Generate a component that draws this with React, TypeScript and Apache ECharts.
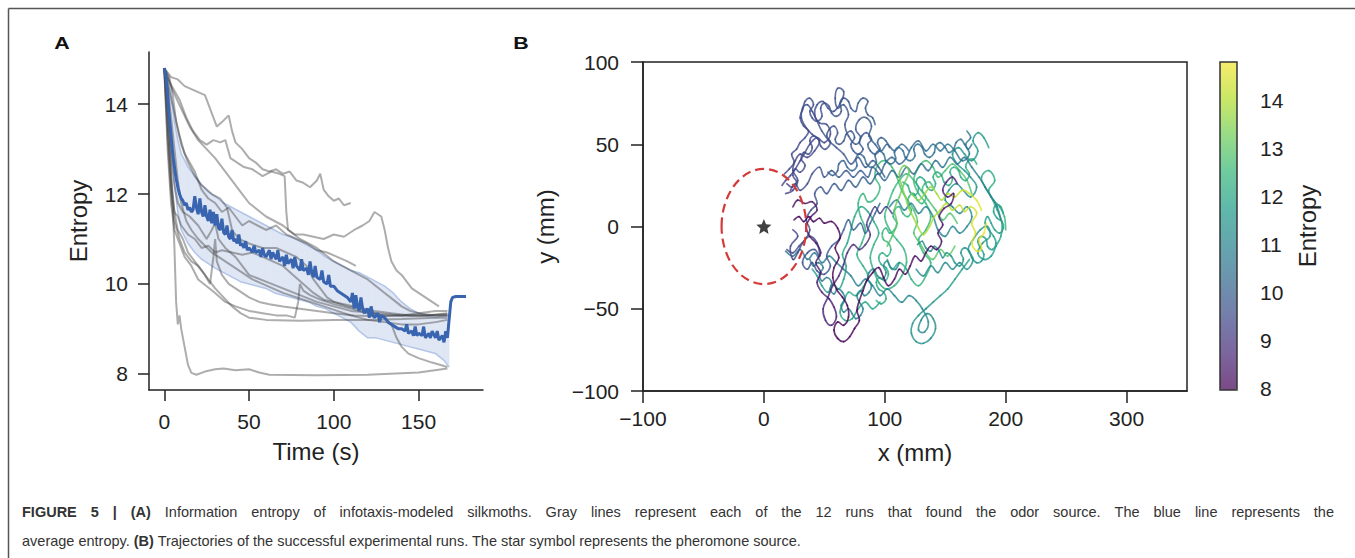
import React, { useEffect, useRef } from "react";
import * as echarts from "echarts";

// ---------------- Panel A data (time s, entropy) ----------------
const runA1 = [[0,14.8],[2,14.2],[4,12.6],[6,10.8],[7,9.6],[8,9.1],[9,9.3],[10,9.0],[12,8.6],[14,8.2],[16,8.02],[19,7.98],[24,8.05],[30,8.1],[35,8.12],[42,8.08],[50,8.1],[56,8.03],[62,7.98],[90,7.97],[120,7.98],[150,8.03],[167,8.12]];
const runA2 = [[0,14.8],[4,14.6],[8,14.55],[12,14.4],[18,14.3],[24,14.2],[28,13.8],[31,13.5],[34,13.6],[38,13.75],[40,13.4],[42,13.15],[46,13.0],[50,12.8],[54,12.7],[58,12.55],[62,12.5],[66,12.55],[70,12.45],[74,12.5],[78,12.3],[82,12.25],[86,12.15],[90,12.3],[92,12.45],[94,12.1],[97,11.95],[100,11.85],[103,11.9],[106,11.75],[110,11.8]];
const runA3 = [[0,14.8],[3,14.5],[6,14.3],[9,14.1],[13,13.7],[17,13.4],[21,13.2],[25,13.1],[29,13.2],[33,13.15],[36,13.2],[39,12.8],[43,12.7],[47,12.6],[52,12.55],[58,12.4],[63,12.5],[68,12.45],[71,12.4],[72,11.6],[73,11.2],[77,11.1],[82,11.1],[88,11.05],[94,11.0],[100,11.1],[106,11.05],[112,11.2],[117,11.3],[121,11.4],[124,11.6],[126,11.55],[128,11.5],[130,11.2],[132,10.8],[134,10.5],[137,10.3],[140,10.2],[143,10.05],[146,9.9],[150,9.8],[154,9.7],[158,9.6],[162,9.5]];
const runA4 = [[0,14.8],[3,14.3],[6,13.8],[9,13.3],[12,12.9],[15,12.7],[18,12.5],[22,12.1],[26,11.9],[30,11.8],[34,11.6],[38,11.7],[42,11.5],[46,11.3],[50,11.4],[55,11.3],[60,11.2],[66,11.3],[72,11.1],[78,11.0],[84,10.9],[90,10.75],[96,10.7],[102,10.6],[108,10.5],[113,10.4]];
const runA5 = [[0,14.8],[2,13.6],[4,12.4],[6,11.6],[8,11.2],[11,11.0],[14,10.7],[18,10.5],[22,10.3],[26,10.1],[30,9.9],[35,9.7],[40,9.5],[45,9.35],[50,9.25],[60,9.2],[80,9.18],[100,9.2],[120,9.2],[140,9.22],[160,9.25],[167,9.25]];
const runA6 = [[0,14.8],[2,13.0],[4,11.8],[6,11.2],[9,10.9],[12,10.6],[16,10.4],[20,10.1],[25,9.95],[30,9.8],[36,9.6],[42,9.5],[50,9.4],[58,9.35],[66,9.3],[72,9.3],[77,9.25],[79,9.6],[80,10.0],[82,9.85],[86,9.75],[92,9.65],[100,9.55],[110,9.45],[120,9.35],[130,9.3],[140,9.3],[150,9.35],[160,9.4],[167,9.4]];
const runA7 = [[0,14.8],[2,13.5],[4,12.2],[6,11.6],[8,11.5],[10,11.3],[14,11.1],[18,11.0],[22,10.8],[26,10.85],[30,10.7],[34,10.75],[40,10.7],[46,10.65],[52,10.7],[58,10.6],[64,10.5],[70,10.4],[76,10.2],[82,10.0],[88,9.8],[94,9.65],[100,9.6],[106,9.55],[112,9.5],[118,9.45],[124,9.35],[130,9.25],[134,9.1],[137,8.8],[140,8.6],[144,8.45],[150,8.35],[158,8.25],[167,8.15]];
const runA8 = [[0,14.8],[2,14.0],[4,12.9],[6,12.2],[8,11.8],[11,11.6],[15,11.5],[20,11.3],[25,11.0],[28,11.2],[30,11.35],[32,11.0],[36,10.8],[42,10.6],[50,10.2],[60,10.05],[70,9.9],[80,9.75],[90,9.6],[100,9.5],[110,9.4],[125,9.35],[140,9.3],[155,9.3],[167,9.3]];
const runA9 = [[0,14.8],[5,14.3],[10,13.9],[15,13.5],[20,13.2],[25,13.0],[30,12.8],[35,12.55],[40,12.3],[45,12.05],[50,11.8],[55,11.65],[60,11.5],[65,11.4],[70,11.3],[75,11.15],[80,11.0],[85,10.9],[90,10.8],[95,10.65],[100,10.5],[105,10.4],[110,10.3],[115,10.2],[120,10.1],[125,9.95],[130,9.8],[135,9.65],[140,9.5],[145,9.4],[150,9.35],[160,9.3],[167,9.3]];
const runA10 = [[0,14.8],[2,13.2],[4,12.0],[6,11.4],[9,11.0],[12,10.7],[16,10.5],[20,10.4],[24,10.2],[27,10.0],[29,10.6],[30,11.0],[31,10.5],[34,10.2],[38,10.0],[44,9.85],[50,9.7],[56,9.6],[62,9.55],[70,9.5],[80,9.45],[90,9.4],[100,9.35],[112,9.3],[125,9.28],[140,9.3],[155,9.3],[167,9.33]];
const runA11 = [[0,14.8],[3,14.6],[5,14.2],[7,13.6],[10,13.1],[14,12.7],[18,12.4],[22,12.2],[28,12.0],[33,11.9],[37,11.7],[40,11.2],[44,11.0],[50,10.9],[58,10.8],[66,10.8],[72,10.7],[78,10.6],[84,10.4],[88,10.1],[92,9.9],[96,9.7],[100,9.6],[108,9.5],[116,9.45],[124,9.4],[134,9.35],[145,9.3],[155,9.3],[167,9.35]];
const runA12 = [[0,14.8],[2,14.4],[4,13.7],[6,13.0],[8,12.3],[10,11.8],[13,11.4],[16,11.2],[20,11.0],[24,10.85],[28,10.7],[32,10.6],[36,10.5],[40,10.4],[44,10.3],[48,10.2],[52,10.1],[58,10.0],[64,9.9],[70,9.8],[78,9.7],[86,9.6],[94,9.5],[102,9.4],[110,9.3],[120,9.2],[130,9.15],[140,9.1],[150,9.1],[160,9.15],[167,9.2]];
const grayRuns = [runA1, runA2, runA3, runA4, runA5, runA6, runA7, runA8, runA9, runA10, runA11, runA12];

const meanEntropy = [[0,14.8],[1,14.6],[2,14.2],[3,13.7],[4,13.3],[5,12.9],[6,12.6],[7,12.35],[8,12.15],[9,12.0],[10,11.9],[11,11.85],[12,11.75],[13,11.8],[14,11.65],[15,11.7],[16,11.6],[17,11.65],[18,11.95],[19,11.7],[20,11.55],[21,11.9],[22,11.6],[23,11.5],[24,11.75],[25,11.5],[26,11.4],[27,11.65],[28,11.35],[29,11.6],[30,11.3],[31,11.55],[32,11.25],[33,11.2],[34,11.45],[35,11.15],[36,11.1],[37,11.3],[38,11.05],[39,11.0],[40,11.2],[41,10.95],[42,11.0],[43,10.9],[44,11.1],[45,10.85],[46,10.9],[47,10.8],[48,10.95],[49,10.75],[50,10.8],[52,10.7],[53,10.85],[54,10.7],[56,10.75],[57,10.6],[58,10.8],[59,10.65],[60,10.6],[62,10.75],[63,10.55],[64,10.7],[66,10.55],[67,10.75],[68,10.5],[70,10.6],[71,10.4],[72,10.65],[73,10.45],[75,10.55],[76,10.35],[77,10.6],[78,10.4],[80,10.3],[81,10.55],[82,10.3],[84,10.35],[85,10.2],[86,10.5],[87,10.25],[88,10.15],[89,10.4],[90,10.15],[92,10.1],[93,10.3],[94,10.05],[96,10.0],[97,10.2],[98,9.95],[100,9.95],[102,9.85],[104,9.8],[106,9.75],[108,9.7],[110,9.6],[111,9.8],[112,9.45],[113,9.75],[114,9.5],[115,9.4],[116,9.7],[117,9.45],[118,9.35],[120,9.45],[121,9.25],[122,9.5],[123,9.3],[124,9.25],[126,9.35],[127,9.15],[128,9.3],[130,9.25],[132,9.15],[134,9.1],[136,9.05],[138,9.0],[140,9.0],[142,8.95],[143,9.1],[144,8.9],[146,8.95],[147,8.85],[148,9.05],[149,8.85],[150,8.9],[152,8.85],[153,9.05],[154,8.8],[156,8.9],[157,8.8],[158,8.95],[160,8.8],[161,8.95],[162,8.75],[164,8.85],[165,8.7],[166,8.95],[167,8.8],[168,9.2],[169,9.6],[170,9.7],[172,9.72],[175,9.72],[178,9.72]];

const bandT  = [2,4,6,8,10,14,18,22,26,30,35,40,45,50,55,60,65,70,75,80,85,90,95,100,105,110,115,120,125,130,135,140,145,150,155,160,165,168];
const bandHi = [14.6,14.2,13.6,13.2,12.9,12.6,12.4,12.2,12.05,11.95,11.8,11.7,11.6,11.5,11.4,11.3,11.2,11.1,11.05,10.95,10.85,10.75,10.6,10.5,10.4,10.3,10.25,10.15,10.05,9.95,9.8,9.6,9.45,9.35,9.3,9.25,9.3,9.3];
const bandLo = [14.4,13.2,12.2,11.6,11.2,10.9,10.7,10.55,10.45,10.35,10.25,10.15,10.05,10.0,9.95,9.9,9.8,9.75,9.7,9.65,9.6,9.5,9.45,9.35,9.25,9.15,8.95,8.8,8.8,8.75,8.7,8.65,8.6,8.55,8.5,8.45,8.3,8.15];

const timeTicks = [0, 50, 100, 150];
const entropyTicksA = [8, 10, 12, 14];

// ---------------- Panel B data (x mm, y mm, entropy) ----------------
const trajP = [[160,26,8.7],[156,30,8.6],[151,27,8.55],[148,22,8.5],[152,18,8.45],[157,20,8.4],[155,14,8.4],[149,11,8.35],[145,6,8.3],[148,1,8.3],[144,-4,8.3],[147,-9,8.25],[143,-14,8.25],[138,-12,8.2],[134,-16,8.2],[130,-21,8.2],[125,-18,8.15],[121,-24,8.15],[117,-29,8.15],[112,-26,8.1],[108,-32,8.1],[103,-36,8.1],[99,-31,8.1],[95,-25,8.1],[90,-28,8.05],[85,-33,8.05],[82,-39,8.05],[79,-45,8.05],[77,-51,8.0],[79,-57,8.0],[75,-62,8.0],[71,-67,8.0],[66,-70,8.0],[61,-68,8.0],[58,-63,8.0],[61,-58,8.0],[66,-60,8.0],[70,-55,8.0],[69,-48,8.0],[65,-43,8.0],[60,-38,8.0],[57,-31,8.0],[58,-25,8.0],[62,-19,8.0],[59,-13,8.0],[63,-7,8.0],[61,-1,8.0],[56,3,8.0],[50,2,8.0],[46,5,8.0],[41,3,8.0],[37,6,8.0],[33,3,8.0],[29,6,8.0],[25,4,8.0]];
const trajQ = [[106,8,9.2],[101,12,9.1],[96,8,9.1],[92,12,9.0],[88,7,9.0],[85,1,8.95],[88,-5,8.9],[84,-11,8.9],[79,-14,8.85],[74,-11,8.8],[69,-16,8.8],[66,-23,8.75],[62,-30,8.7],[57,-36,8.7],[53,-43,8.65],[49,-50,8.6],[51,-57,8.6],[56,-60,8.55],[60,-55,8.55],[58,-49,8.5],[54,-44,8.5],[48,-40,8.5],[44,-34,8.45],[47,-28,8.45],[43,-22,8.4],[47,-16,8.4],[43,-10,8.35],[38,-6,8.35],[35,0,8.3],[39,6,8.3],[44,10,8.3],[40,15,8.3],[34,14,8.25],[28,16,8.25],[24,12,8.2]];
const trajB1 = [[120,46,10.2],[114,50,10.15],[108,46,10.1],[102,50,10.05],[97,46,10.0],[92,50,9.95],[87,55,9.9],[89,61,9.9],[85,66,9.85],[79,65,9.85],[76,59,9.8],[80,54,9.8],[76,50,9.75],[70,55,9.75],[67,62,9.7],[70,68,9.7],[66,74,9.65],[61,72,9.65],[59,78,9.6],[61,84,9.6],[66,82,9.6],[64,76,9.6],[58,70,9.55],[53,72,9.55],[49,76,9.5],[44,74,9.5],[42,68,9.5],[46,63,9.45],[52,62,9.45],[55,56,9.45],[50,51,9.4],[44,54,9.4],[38,50,9.4],[34,45,9.35],[30,40,9.35],[26,35,9.3],[22,31,9.3],[18,28,9.25],[15,25,9.25]];
const trajB1b = [[100,30,10.0],[95,36,9.95],[90,40,9.9],[84,36,9.85],[78,42,9.8],[72,38,9.8],[66,44,9.75],[60,48,9.7],[54,52,9.7],[48,58,9.65],[44,64,9.6],[40,70,9.6],[36,74,9.55],[32,72,9.55],[31,66,9.5],[35,60,9.5],[40,56,9.5],[46,52,9.45],[42,46,9.45],[36,42,9.4],[30,44,9.4],[26,40,9.35],[24,34,9.35],[28,28,9.3],[24,22,9.3],[18,20,9.25]];
const trajB2 = [[196,4,11.0],[193,12,10.95],[188,18,10.9],[183,24,10.85],[178,30,10.8],[172,36,10.75],[166,42,10.7],[160,38,10.65],[154,42,10.6],[148,36,10.55],[142,40,10.5],[136,34,10.45],[130,38,10.4],[124,32,10.35],[118,36,10.3],[112,30,10.25],[106,34,10.2],[100,28,10.15],[94,32,10.1],[88,26,10.05],[82,30,10.0],[76,24,9.95],[70,28,9.9],[64,22,9.85],[58,26,9.8],[52,20,9.75],[47,24,9.7],[42,20,9.65],[44,14,9.6],[39,10,9.55],[35,4,9.5],[38,-2,9.5],[34,-8,9.45],[29,-12,9.4],[24,-16,9.4],[19,-14,9.35]];
const trajB4 = [[168,58,10.8],[171,54,10.75],[167,50,10.7],[170,44,10.7],[164,40,10.65],[158,46,10.6],[152,50,10.55],[146,46,10.5],[140,50,10.45],[134,46,10.4],[128,52,10.35],[122,48,10.3],[118,42,10.25],[112,38,10.2],[106,42,10.15],[100,38,10.1],[96,32,10.05],[90,36,10.0],[86,30,9.95],[80,34,9.9],[74,30,9.85],[68,34,9.8],[62,30,9.75],[56,34,9.7],[50,30,9.65],[46,36,9.6],[40,32,9.55],[36,26,9.5],[30,22,9.45],[26,26,9.4],[22,22,9.35]];
const trajB3 = [[96,14,10.3],[92,8,10.25],[88,2,10.2],[84,-4,10.15],[80,2,10.1],[74,-2,10.05],[70,4,10.0],[66,-2,9.95],[62,-8,9.9],[56,-12,9.85],[52,-18,9.8],[55,-24,9.75],[50,-29,9.7],[44,-27,9.7],[40,-22,9.65],[36,-26,9.6],[32,-22,9.6],[36,-16,9.55],[42,-14,9.55],[46,-18,9.5],[44,-10,9.5],[38,-6,9.45],[32,-10,9.45],[28,-16,9.4],[24,-20,9.4],[22,-12,9.35],[28,-6,9.35],[24,-2,9.3]];
const trajC1 = [[104,48,10.0],[101,52,10.0],[97,54,9.98],[94,51,9.96],[96,47,9.95],[92,44,9.93],[88,46,9.9],[86,50,9.9],[89,53,9.88],[85,57,9.86],[81,55,9.85],[79,51,9.84],[82,47,9.82],[78,44,9.8],[74,46,9.8],[72,50,9.78],[75,54,9.76],[72,58,9.75],[68,56,9.74],[66,52,9.72],[62,50,9.7],[59,53,9.7],[61,57,9.68],[58,61,9.66],[54,59,9.65],[52,55,9.64],[55,51,9.62],[51,47,9.6],[47,49,9.6],[45,53,9.58],[41,55,9.56],[38,52,9.55],[40,48,9.54],[37,44,9.52],[33,45,9.5],[31,41,9.5],[34,37,9.48],[30,33,9.46],[26,35,9.45],[24,31,9.44],[27,27,9.42],[23,24,9.4],[19,26,9.4]];
const trajC2 = [[92,62,9.9],[90,66,9.88],[86,68,9.86],[84,72,9.85],[86,76,9.84],[82,78,9.82],[78,75,9.8],[76,70,9.8],[72,72,9.78],[70,76,9.76],[66,78,9.75],[63,75,9.74],[64,70,9.72],[60,67,9.7],[56,69,9.7],[54,73,9.68],[50,75,9.66],[47,72,9.65],[48,67,9.64],[44,64,9.62],[40,66,9.6],[38,70,9.6],[41,74,9.58],[38,78,9.56],[34,76,9.55],[32,71,9.54],[30,66,9.52],[33,61,9.5],[37,58,9.5],[34,54,9.48],[30,51,9.46],[27,47,9.45],[23,44,9.44],[25,39,9.42],[21,35,9.4],[17,32,9.4]];
const trajC3 = [[172,50,10.6],[169,47,10.58],[166,50,10.56],[163,53,10.55],[159,51,10.54],[157,47,10.52],[153,45,10.5],[150,48,10.5],[146,51,10.48],[142,49,10.46],[141,45,10.45],[137,42,10.44],[133,44,10.42],[131,48,10.4],[127,50,10.4],[124,47,10.38],[125,43,10.36],[121,40,10.35],[117,42,10.34],[115,46,10.32],[111,48,10.3],[108,45,10.3],[109,41,10.28],[105,38,10.26],[101,40,10.25],[99,44,10.24],[95,46,10.22],[92,43,10.2],[93,39,10.2],[89,36,10.18],[85,38,10.16],[83,42,10.15],[79,44,10.14],[76,41,10.12],[77,37,10.1],[73,34,10.1],[69,36,10.08],[66,40,10.06],[62,38,10.05],[61,34,10.04],[57,31,10.02],[53,33,10.0]];
const trajT1 = [[186,48,11.7],[182,54,11.65],[177,57,11.6],[173,52,11.6],[177,46,11.55],[172,40,11.5],[166,44,11.5],[161,48,11.45],[156,44,11.45],[160,38,11.4],[166,34,11.4],[171,30,11.35],[176,24,11.35],[171,18,11.3],[165,22,11.3],[159,26,11.25],[153,22,11.25],[150,16,11.2],[156,12,11.2],[162,8,11.15],[168,12,11.15],[172,6,11.1],[168,0,11.1],[162,-4,11.05],[156,0,11.05],[150,-6,11.0],[144,-2,11.0],[140,6,10.95],[134,12,10.95],[128,8,10.9],[122,14,10.9],[116,10,10.85],[110,16,10.85],[104,12,10.8]];
const trajT2 = [[200,-2,12.4],[199,6,12.35],[195,12,12.3],[190,16,12.25],[186,22,12.2],[191,28,12.15],[186,34,12.1],[180,30,12.05],[183,24,12.0],[188,18,12.0],[193,10,11.95],[197,2,11.9],[196,-6,11.85],[192,-12,11.8],[188,-18,11.75],[182,-20,11.7],[177,-16,11.65],[181,-10,11.6],[187,-6,11.6],[185,0,11.55],[179,-2,11.5],[173,-8,11.5],[169,-14,11.45],[173,-20,11.4],[168,-26,11.4],[162,-22,11.35],[156,-26,11.3],[150,-22,11.3],[144,-28,11.25],[138,-24,11.2],[132,-30,11.2],[126,-26,11.15]];
const trajT3 = [[170,-20,11.8],[164,-26,11.75],[158,-32,11.7],[152,-38,11.65],[146,-42,11.6],[140,-46,11.55],[134,-50,11.5],[128,-54,11.5],[123,-59,11.45],[122,-65,11.4],[126,-70,11.4],[132,-71,11.35],[138,-68,11.35],[142,-62,11.3],[140,-56,11.3],[135,-53,11.25],[130,-57,11.25],[128,-63,11.2],[133,-64,11.2],[136,-58,11.15],[131,-50,11.15],[126,-45,11.1],[120,-42,11.1],[114,-46,11.05],[108,-42,11.05],[102,-38,11.0],[96,-42,11.0],[90,-36,10.95],[84,-32,10.95],[78,-36,10.9],[72,-30,10.9],[66,-26,10.85],[60,-22,10.85],[54,-18,10.8],[48,-22,10.8],[42,-16,10.75],[36,-20,10.75],[30,-14,10.7],[24,-18,10.7],[18,-15,10.65]];
const trajC4 = [[198,8,11.9],[196,12,11.88],[192,13,11.86],[190,9,11.85],[193,5,11.84],[197,3,11.82],[198,-1,11.8],[195,-4,11.8],[191,-2,11.78],[188,2,11.76],[185,6,11.75],[183,2,11.74],[186,-2,11.72],[190,-6,11.7],[192,-10,11.7],[189,-14,11.68],[185,-12,11.66],[184,-8,11.65],[180,-6,11.64],[177,-9,11.62],[179,-13,11.6],[182,-17,11.6],[180,-21,11.58],[176,-22,11.56],[172,-19,11.55],[170,-15,11.54],[166,-13,11.52],[163,-16,11.5],[165,-20,11.5],[162,-24,11.48],[158,-22,11.46],[155,-18,11.45],[151,-16,11.44],[148,-19,11.42],[145,-15,11.4],[141,-12,11.4],[138,-15,11.38],[134,-13,11.36],[131,-9,11.35],[127,-11,11.34]];
const trajC6 = [[112,-22,11.2],[109,-26,11.18],[105,-25,11.16],[102,-21,11.15],[99,-24,11.14],[101,-28,11.12],[98,-32,11.1],[94,-30,11.1],[91,-26,11.08],[87,-28,11.06],[86,-32,11.05],[89,-36,11.04],[87,-40,11.02],[83,-42,11.0],[80,-39,11.0],[77,-42,10.98],[79,-46,10.96],[82,-50,10.95],[80,-54,10.94],[76,-56,10.92],[73,-53,10.9],[70,-50,10.9],[66,-52,10.88],[64,-48,10.86],[67,-44,10.85],[65,-40,10.84],[61,-38,10.82],[58,-41,10.8],[55,-38,10.8],[56,-34,10.78],[52,-31,10.76],[48,-33,10.75],[46,-29,10.74],[49,-25,10.72],[45,-22,10.7],[41,-24,10.7],[38,-20,10.68]];
const trajG1 = [[160,2,12.9],[154,8,12.85],[148,4,12.8],[142,10,12.75],[136,16,12.7],[130,22,12.65],[124,28,12.6],[118,32,12.55],[112,28,12.5],[107,22,12.5],[103,14,12.45],[100,6,12.4],[104,-2,12.4],[110,-8,12.35],[116,-14,12.3],[118,-22,12.3],[114,-30,12.25],[108,-36,12.2],[101,-38,12.2],[95,-34,12.15],[91,-27,12.1],[88,-19,12.1],[91,-11,12.05],[95,-4,12.05],[91,3,12.0],[86,9,12.0],[80,12,11.95],[75,6,11.95],[72,-2,11.9],[69,-10,11.9],[65,-17,11.85],[68,-24,11.85],[66,-32,11.8],[62,-38,11.8],[57,-35,11.75],[53,-40,11.75],[48,-36,11.7],[44,-30,11.7],[40,-26,11.65]];
const trajG2 = [[158,-12,13.1],[152,-18,13.05],[146,-14,13.0],[140,-20,12.95],[134,-16,12.9],[129,-10,12.85],[124,-4,12.8],[127,3,12.8],[124,10,12.75],[119,16,12.7],[114,22,12.65],[110,30,12.6],[106,36,12.6],[100,40,12.55],[94,37,12.5],[92,30,12.5],[96,24,12.45],[92,17,12.4],[86,15,12.4],[82,20,12.35],[78,14,12.35],[80,6,12.3],[84,-2,12.3],[81,-10,12.25],[77,-17,12.2],[82,-24,12.2],[86,-30,12.15],[82,-37,12.15],[76,-42,12.1],[70,-40,12.1],[66,-46,12.05],[63,-52,12.0],[67,-57,12.0],[73,-56,11.95],[78,-50,11.95],[84,-46,11.9],[90,-50,11.9],[96,-46,11.85]];
const trajG3 = [[172,20,12.9],[168,28,12.85],[162,34,12.8],[156,38,12.8],[150,34,12.75],[144,30,12.7],[140,36,12.7],[134,40,12.65],[128,36,12.6],[124,28,12.6],[128,20,12.55],[134,14,12.5],[138,6,12.5],[134,-2,12.45],[128,-8,12.4],[132,-16,12.4],[138,-22,12.35],[134,-30,12.3],[128,-36,12.3],[122,-32,12.25],[118,-26,12.2],[112,-22,12.2],[106,-26,12.15],[102,-20,12.1]];
const trajC5 = [[140,24,12.6],[137,27,12.58],[133,26,12.56],[131,22,12.55],[134,18,12.54],[131,14,12.52],[127,16,12.5],[124,20,12.5],[120,18,12.48],[119,14,12.46],[122,10,12.45],[119,6,12.44],[115,8,12.42],[112,12,12.4],[108,10,12.4],[107,6,12.38],[110,2,12.36],[108,-2,12.35],[104,-4,12.34],[101,-1,12.32],[98,-4,12.3],[99,-8,12.3],[103,-10,12.28],[105,-14,12.26],[102,-18,12.25],[98,-16,12.24],[95,-19,12.22],[97,-23,12.2],[101,-25,12.2],[103,-29,12.18],[100,-33,12.16],[96,-31,12.15],[93,-34,12.14],[95,-38,12.12],[99,-40,12.1],[101,-44,12.1],[97,-47,12.08],[93,-45,12.06]];
const trajC7 = [[176,38,12.3],[173,41,12.28],[169,40,12.26],[167,36,12.25],[170,32,12.24],[167,28,12.22],[163,30,12.2],[161,34,12.2],[157,36,12.18],[154,33,12.16],[156,29,12.15],[153,25,12.14],[149,27,12.12],[147,31,12.1],[143,33,12.1],[140,30,12.08],[142,26,12.06],[139,22,12.05],[135,24,12.04],[133,28,12.02],[129,30,12.0],[126,27,12.0],[128,23,11.98],[125,19,11.96],[121,21,11.95],[119,25,11.94],[115,27,11.92]];
const trajY = [[184,2,14.7],[182,-4,14.65],[178,-8,14.6],[180,-13,14.55],[176,-15,14.5],[172,-10,14.45],[175,-4,14.4],[172,2,14.35],[176,8,14.3],[171,12,14.25],[166,9,14.2],[162,13,14.15],[156,10,14.1],[151,14,14.05],[146,10,14.0],[141,6,13.95],[137,0,13.9],[132,-5,13.85],[128,-1,13.8],[124,5,13.7],[120,11,13.6],[117,18,13.5],[114,25,13.4],[112,32,13.3],[116,37,13.25],[120,33,13.2],[116,26,13.15],[112,18,13.1],[108,10,13.05],[110,2,13.0],[106,-6,12.95],[102,-12,12.9]];
const trajY2 = [[180,10,14.5],[176,16,14.4],[170,20,14.3],[164,22,14.2],[158,18,14.1],[152,20,14.0],[147,16,13.9],[143,20,13.8],[138,24,13.7],[133,20,13.6],[128,16,13.5],[122,20,13.4]];
const trajectories = [
  trajG3, trajG2, trajG1, trajC5, trajC7,
  trajT3, trajT2, trajT1, trajC4, trajC6,
  trajB4, trajB2, trajB1b, trajB3, trajB1, trajC1, trajC2, trajC3,
  trajY2, trajY, trajQ, trajP,
];

const sourcePos = [[0, 0]];
const zoneRadius = [35, 35];
const xTicksB = [-100, 0, 100, 200, 300];
const yTicksB = [-100, -50, 0, 50, 100];
const entropyTicksBar = [8, 9, 10, 11, 12, 13, 14];

const viridis = ["#440154", "#482878", "#3e4989", "#31688e", "#26828e", "#1f9e89", "#35b779", "#6ece58", "#b5de2b", "#fde725"];
const viridisFaded = ["#7a4a86", "#7c659e", "#757daa", "#6c93ae", "#64a6ae", "#5fb9aa", "#6fcb9e", "#98dc87", "#cae766", "#f7ec6c"];

const captionLine1 = [
  { text: "FIGURE 5 | (A)", bold: true },
  { text: "Information entropy of infotaxis-modeled silkmoths. Gray lines represent each of the 12 runs that found the odor source. The blue line represents the", bold: false },
];
const captionLine2 = "average entropy. {b|(B)} Trajectories of the successful experimental runs. The star symbol represents the pheromone source.";

const FONT = "Liberation Sans, Arial, Helvetica, sans-serif";
const INK = "#222";
const CAP_SIZE = 14.5;
const CAP_COLOR = "#333";

const fmtMinus = (v: number) => String(v).replace("-", "\u2212");

function justifiedWords(parts: { text: string; bold: boolean }[], x0: number, x1: number, y: number) {
  const words: { w: string; bold: boolean }[] = [];
  parts.forEach((p) => p.text.split(" ").forEach((w) => words.push({ w, bold: p.bold })));
  const ctx = document.createElement("canvas").getContext("2d")!;
  const widths = words.map((wd) => {
    ctx.font = `${wd.bold ? "bold " : ""}${CAP_SIZE}px ${FONT}`;
    return ctx.measureText(wd.w).width;
  });
  const total = widths.reduce((a, b) => a + b, 0);
  const gap = (x1 - x0 - total) / (words.length - 1);
  let x = x0;
  return words.map((wd, i) => {
    const el = {
      type: "text", x, y, z: 100, silent: true,
      style: { text: wd.w, fontSize: CAP_SIZE, fontFamily: FONT, fontWeight: wd.bold ? "bold" : "normal", fill: CAP_COLOR, verticalAlign: "middle" },
    };
    x += widths[i] + gap;
    return el;
  });
}

function buildOption() {
  // each segment: [x1, y1, x2, y2, entropy, xPrev, yPrev, xNext, yNext] (neighbours used for a smooth curve)
  const segments: number[][] = [];
  trajectories.forEach((t) => {
    for (let i = 0; i < t.length - 1; i++) {
      const p0 = t[Math.max(i - 1, 0)];
      const p3 = t[Math.min(i + 2, t.length - 1)];
      segments.push([t[i][0], t[i][1], t[i + 1][0], t[i + 1][1], t[i][2], p0[0], p0[1], p3[0], p3[1]]);
    }
  });
  const bandCells = bandT.slice(0, -1).map((t, i) => [t, bandLo[i], bandHi[i], bandT[i + 1], bandLo[i + 1], bandHi[i + 1]]);

  const axisLineStyle = { color: INK, width: 1.5 };
  const labelCommon = { fontSize: 21, color: INK, fontFamily: FONT };
  const nameStyle = { fontSize: 24, color: INK, fontFamily: FONT };

  const series: any[] = [];
  series.push({
    type: "custom", xAxisIndex: 0, yAxisIndex: 0, data: bandCells,
    encode: { x: [0, 3], y: [1, 2, 4, 5] },
    renderItem: (params: any, api: any) => {
      const a = api.coord([api.value(0), api.value(1)]);
      const b = api.coord([api.value(3), api.value(4)]);
      const c = api.coord([api.value(3), api.value(5)]);
      const d = api.coord([api.value(0), api.value(2)]);
      return {
        type: "polygon", shape: { points: [a, b, c, d] },
        style: { fill: "#dfe6f4", stroke: "#dfe6f4", lineWidth: 0.6 },
      };
    },
    z: 1, silent: true,
  });
  series.push({
    type: "line", xAxisIndex: 0, yAxisIndex: 0, symbol: "none",
    data: bandT.map((t, i) => [t, bandHi[i]]), lineStyle: { color: "rgba(165,188,230,0.8)", width: 1.5 }, z: 1,
  });
  series.push({
    type: "line", xAxisIndex: 0, yAxisIndex: 0, symbol: "none",
    data: bandT.map((t, i) => [t, bandLo[i]]), lineStyle: { color: "rgba(165,188,230,0.8)", width: 1.5 }, z: 1,
  });
  grayRuns.forEach((r) => {
    series.push({
      type: "line", xAxisIndex: 0, yAxisIndex: 0, data: r, showSymbol: false, symbol: "none",
      lineStyle: { color: "rgba(60,60,60,0.42)", width: 2 }, z: 2, silent: true,
    });
  });
  series.push({
    type: "line", xAxisIndex: 0, yAxisIndex: 0, symbol: "none", data: meanEntropy,
    lineStyle: { color: "#3864b0", width: 3 }, z: 5,
  });
  const trajIndex = series.length;
  series.push({
    type: "custom", xAxisIndex: 1, yAxisIndex: 1, data: segments,
    encode: { x: [0, 2], y: [1, 3] },
    renderItem: (params: any, api: any) => {
      const p1 = api.coord([api.value(0), api.value(1)]);
      const p2 = api.coord([api.value(2), api.value(3)]);
      const p0 = api.coord([api.value(5), api.value(6)]);
      const p3 = api.coord([api.value(7), api.value(8)]);
      const k = 1 / 5;
      return {
        type: "bezierCurve",
        shape: {
          x1: p1[0], y1: p1[1], x2: p2[0], y2: p2[1],
          cpx1: p1[0] + (p2[0] - p0[0]) * k, cpy1: p1[1] + (p2[1] - p0[1]) * k,
          cpx2: p2[0] - (p3[0] - p1[0]) * k, cpy2: p2[1] - (p3[1] - p1[1]) * k,
        },
        style: { stroke: api.visual("color"), fill: "none", lineWidth: 1.7, lineCap: "round", opacity: 0.8 },
      };
    },
    z: 3, silent: true,
  });
  series.push({
    type: "custom", xAxisIndex: 1, yAxisIndex: 1,
    data: sourcePos.map((p) => [p[0], p[1], zoneRadius[0], zoneRadius[1]]),
    renderItem: (params: any, api: any) => {
      const c = api.coord([api.value(0), api.value(1)]);
      const s = api.size([api.value(2), api.value(3)]);
      return {
        type: "ellipse",
        shape: { cx: c[0], cy: c[1], rx: s[0], ry: s[1] },
        style: { fill: "none", stroke: "#d43a3a", lineWidth: 2.2, lineDash: [9, 5] },
      };
    },
    z: 4, silent: true,
  });
  series.push({
    type: "scatter", xAxisIndex: 1, yAxisIndex: 1, data: sourcePos,
    symbol: "path://M12 1.5l3.1 7.2 7.9.7-6 5.2 1.8 7.7L12 18.3l-6.8 4 1.8-7.7-6-5.2 7.9-.7z",
    symbolSize: 15, itemStyle: { color: "#111" }, z: 6,
  });
  const dummyIndex = series.length;
  series.push({ type: "scatter", xAxisIndex: 2, yAxisIndex: 2, data: [] });

  return {
    animation: false,
    backgroundColor: "#fff",
    grid: [
      { left: 149, top: 52, width: 334, height: 338 },
      { left: 643, top: 62, width: 544, height: 329, show: true, borderColor: INK, borderWidth: 1.5 },
      { left: 1220, top: 62, width: 17, height: 328 },
    ],
    xAxis: [
      {
        gridIndex: 0, type: "value", min: -9, max: 188,
        axisLine: { onZero: false, lineStyle: axisLineStyle },
        axisTick: { length: 11, lineStyle: axisLineStyle, customValues: timeTicks },
        axisLabel: { ...labelCommon, margin: 21, customValues: timeTicks },
        splitLine: { show: false },
        name: "Time (s)", nameLocation: "middle", nameGap: 49, nameTextStyle: nameStyle,
      },
      {
        gridIndex: 1, type: "value", min: -100, max: 350,
        axisLine: { onZero: false, lineStyle: axisLineStyle },
        axisTick: { length: 12, lineStyle: axisLineStyle, customValues: xTicksB },
        axisLabel: { ...labelCommon, margin: 17, customValues: xTicksB, formatter: fmtMinus },
        splitLine: { show: false },
        name: "x (mm)", nameLocation: "middle", nameGap: 49, nameTextStyle: nameStyle,
      },
      { gridIndex: 2, type: "value", min: 0, max: 1, show: false },
    ],
    yAxis: [
      {
        gridIndex: 0, type: "value", min: 7.64, max: 15.16,
        axisLine: { show: true, onZero: false, lineStyle: axisLineStyle },
        axisTick: { show: true, length: 11, lineStyle: axisLineStyle, customValues: entropyTicksA },
        axisLabel: { ...labelCommon, margin: 21, customValues: entropyTicksA },
        splitLine: { show: false },
        name: "Entropy", nameLocation: "middle", nameGap: 59, nameRotate: 90, nameTextStyle: nameStyle,
      },
      {
        gridIndex: 1, type: "value", min: -100, max: 100,
        axisLine: { show: true, onZero: false, lineStyle: axisLineStyle },
        axisTick: { show: true, length: 12, lineStyle: axisLineStyle, customValues: yTicksB },
        axisLabel: { ...labelCommon, margin: 24, customValues: yTicksB, formatter: fmtMinus },
        splitLine: { show: false },
        name: "y (mm)", nameLocation: "middle", nameGap: 86, nameRotate: 90, nameTextStyle: nameStyle,
      },
      {
        gridIndex: 2, type: "value", min: 7.96, max: 14.8, position: "right",
        axisLine: { show: false },
        axisTick: { show: true, length: 11, lineStyle: axisLineStyle, customValues: entropyTicksBar },
        axisLabel: { ...labelCommon, margin: 23, customValues: entropyTicksBar },
        splitLine: { show: false },
        name: "Entropy", nameLocation: "middle", nameGap: 58, nameRotate: 90, nameTextStyle: nameStyle,
      },
    ],
    visualMap: [
      {
        type: "continuous", show: true, seriesIndex: dummyIndex, min: 7.96, max: 14.8,
        left: 1220, top: 62, itemWidth: 17, itemHeight: 328, padding: 0,
        calculable: false, realtime: false, text: null, showLabel: false,
        inRange: { color: viridisFaded }, z: 2,
      },
      {
        type: "continuous", show: false, seriesIndex: trajIndex, dimension: 4,
        min: 7.96, max: 14.8, inRange: { color: viridis },
      },
    ],
    graphic: [
      { type: "line", shape: { x1: 8.5, y1: 8.5, x2: 1355, y2: 8.5 }, style: { stroke: "#555", lineWidth: 1.5 }, z: 100 },
      { type: "line", shape: { x1: 8.5, y1: 8.5, x2: 8.5, y2: 558 }, style: { stroke: "#555", lineWidth: 1.5 }, z: 100 },
      { type: "rect", shape: { x: 1220, y: 62, width: 17, height: 328 }, style: { fill: "none", stroke: "#333", lineWidth: 1.5 }, z: 100 },
      { type: "text", x: 62, y: 43, scaleX: 1.3, style: { text: "A", fontSize: 16.5, fontWeight: "bold", fontFamily: FONT, fill: "#111", align: "center", verticalAlign: "middle" }, z: 100 },
      { type: "text", x: 521, y: 43, scaleX: 1.3, style: { text: "B", fontSize: 16.5, fontWeight: "bold", fontFamily: FONT, fill: "#111", align: "center", verticalAlign: "middle" }, z: 100 },
      ...justifiedWords(captionLine1, 22, 1334, 512),
      {
        type: "text", x: 22, y: 541, z: 100,
        style: {
          text: captionLine2,
          fontSize: CAP_SIZE, fontFamily: FONT, fill: CAP_COLOR, verticalAlign: "middle",
          rich: { b: { fontWeight: "bold", fontSize: CAP_SIZE, fontFamily: FONT, fill: CAP_COLOR } },
        },
      },
    ],
    series,
  };
}

export default function App() {
  const ref = useRef<HTMLDivElement>(null);
  useEffect(() => {
    if (!ref.current) return;
    const chart = echarts.init(ref.current, null, { renderer: "svg" });
    chart.setOption(buildOption() as any);
    return () => chart.dispose();
  }, []);
  return (
    <div
      ref={ref}
      style={{ position: "absolute", left: 0, top: 0, width: 1355, height: 558, background: "#fff" }}
    />
  );
}
